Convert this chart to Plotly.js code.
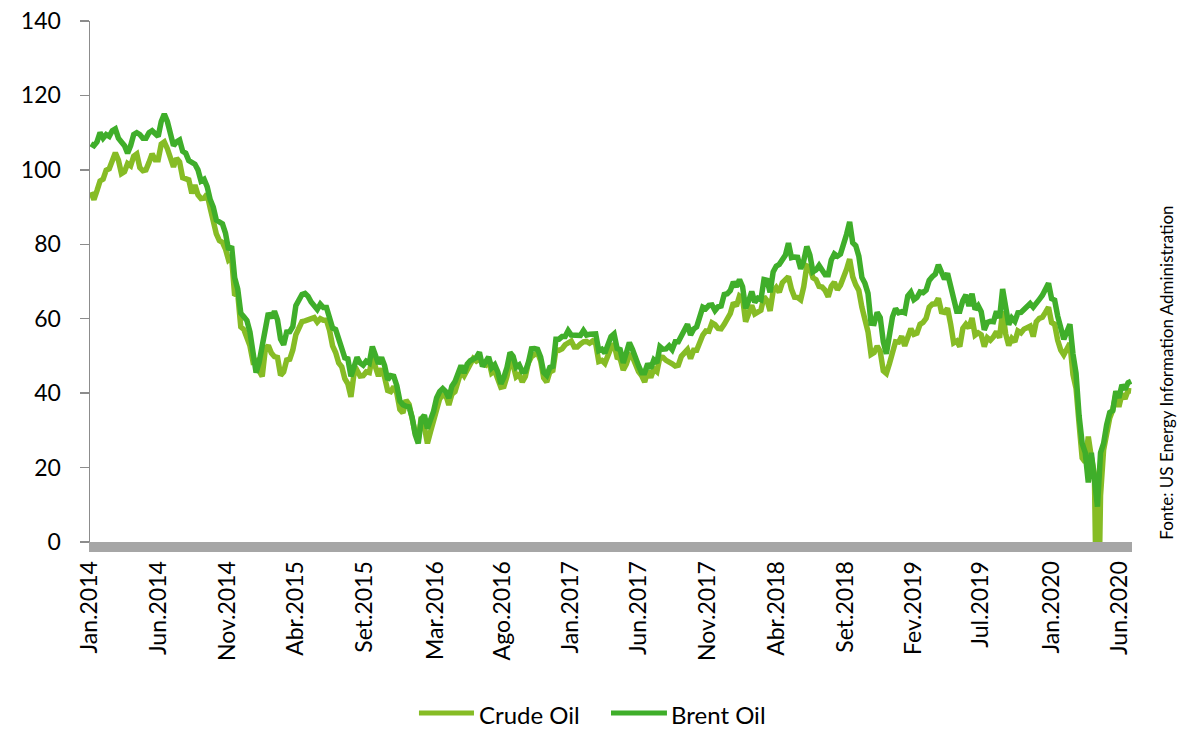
<!DOCTYPE html>
<html>
<head>
<meta charset="utf-8">
<script src="https://cdn.plot.ly/plotly-3.0.1.min.js"></script>
<style>
  html, body { margin: 0; padding: 0; background: #ffffff; }
  #chart { width: 1199px; height: 729px; }
</style>
</head>
<body>
<div id="chart"></div>
<script>
// Weekly values (Fridays), USD per barrel
const crude2014 = [94.0, 92.0, 94.4, 97.0, 97.5, 99.9, 100.3, 102.2, 104.6, 102.6, 99.0, 99.5, 101.7, 101.1, 103.7, 104.3, 100.6, 99.8, 100.0, 102.0, 104.3, 102.7, 102.7, 106.9, 107.5, 105.7, 103.5, 100.8, 103.1, 102.1, 97.9, 97.6, 97.3, 93.7, 95.9, 93.3, 92.3, 92.4, 93.5, 89.7, 85.8, 82.8, 81.0, 80.5, 78.7, 75.8, 76.5, 66.2, 66.8, 57.8, 57.1, 54.7];
const brent2014 = [107.0, 106.5, 107.5, 110.0, 108.5, 109.5, 109.0, 110.5, 111.0, 108.5, 107.5, 106.5, 104.5, 106.5, 109.5, 110.0, 109.5, 108.5, 108.5, 110.0, 110.5, 109.5, 109.0, 113.0, 115.0, 113.0, 110.0, 106.5, 107.5, 108.0, 105.0, 104.5, 102.5, 102.0, 101.5, 100.0, 97.0, 97.5, 95.5, 92.0, 90.0, 86.5, 86.0, 85.5, 83.0, 78.5, 79.5, 71.0, 68.0, 61.5, 60.5, 59.5];
const crude2015 = [52.7, 48.4, 48.7, 46.0, 44.5, 51.7, 52.8, 50.8, 49.8, 49.6, 44.8, 45.7, 48.9, 49.1, 51.6, 55.7, 57.2, 59.2, 59.4, 59.7, 59.7, 60.3, 59.1, 60.0, 59.6, 59.6, 56.9, 52.7, 50.9, 48.1, 47.1, 43.9, 42.5, 39.0, 45.2, 46.1, 44.6, 44.7, 45.7, 45.5, 49.6, 47.3, 44.6, 46.6, 44.3, 40.7, 40.4, 41.7, 40.0, 35.6, 34.7, 38.1];
const brent2015 = [56.4, 50.1, 45.5, 48.3, 53.0, 57.8, 61.5, 60.2, 62.0, 59.7, 54.5, 53.0, 56.4, 56.5, 57.9, 63.5, 65.0, 66.5, 66.8, 66.0, 64.5, 63.5, 62.5, 63.9, 63.0, 63.0, 60.3, 57.5, 57.1, 54.6, 52.2, 49.5, 49.2, 44.5, 47.0, 49.6, 48.1, 47.5, 48.6, 48.1, 52.5, 50.5, 47.9, 49.6, 47.4, 43.6, 44.7, 44.5, 42.0, 37.9, 36.9, 36.5];
const crude2016 = [37.0, 33.2, 29.4, 27.5, 33.6, 30.9, 26.5, 29.6, 32.8, 35.9, 38.5, 39.4, 39.5, 36.8, 39.7, 40.4, 43.7, 45.9, 44.7, 46.2, 47.8, 49.3, 48.6, 49.1, 48.0, 47.6, 49.0, 45.4, 46.0, 44.2, 41.6, 41.8, 44.5, 48.5, 47.6, 44.4, 45.0, 43.0, 44.5, 48.2, 49.8, 50.4, 50.9, 48.7, 44.1, 43.0, 45.7, 46.1, 51.7, 51.5, 51.9, 53.0, 53.7];
const brent2016 = [36.3, 33.5, 28.9, 26.5, 33.0, 34.1, 30.5, 32.8, 35.1, 38.7, 40.4, 41.2, 40.4, 38.7, 41.9, 43.1, 45.1, 47.4, 45.4, 47.8, 48.7, 49.3, 49.6, 51.0, 47.2, 48.4, 49.7, 46.8, 47.6, 45.7, 42.5, 44.3, 46.9, 50.9, 49.9, 47.0, 47.6, 45.8, 45.9, 48.2, 51.9, 52.0, 51.8, 49.7, 45.6, 44.8, 46.9, 47.2, 54.5, 54.5, 55.2, 55.2, 56.8];
const crude2017 = [54.0, 52.4, 52.4, 53.2, 53.8, 53.9, 53.4, 54.0, 53.3, 48.5, 48.8, 48.0, 50.6, 52.2, 53.2, 49.6, 49.3, 46.2, 47.8, 50.3, 49.8, 47.7, 45.8, 44.7, 43.0, 46.0, 44.2, 46.5, 45.8, 49.7, 49.6, 48.8, 48.5, 47.9, 47.3, 47.5, 49.9, 50.6, 51.7, 49.3, 51.5, 51.5, 53.9, 55.6, 56.7, 56.6, 58.9, 58.4, 57.4, 57.3, 58.5, 60.4];
const brent2017 = [55.6, 55.5, 55.5, 55.5, 56.8, 55.6, 55.8, 56.0, 55.9, 51.4, 51.8, 50.8, 52.8, 55.2, 55.9, 52.0, 51.7, 48.1, 50.8, 53.6, 51.8, 49.1, 47.4, 45.5, 45.5, 47.9, 46.7, 48.9, 48.1, 52.5, 51.8, 51.9, 52.7, 51.7, 53.8, 53.8, 55.6, 57.5, 58.5, 55.6, 57.2, 57.8, 60.4, 63.1, 62.7, 63.6, 63.7, 62.2, 63.2, 63.4, 66.5, 66.7];
const crude2018 = [61.4, 64.3, 63.4, 66.1, 65.5, 59.2, 61.7, 63.6, 61.3, 62.0, 62.3, 65.9, 64.9, 62.1, 67.4, 68.4, 67.1, 69.7, 70.7, 71.3, 67.9, 65.8, 65.7, 65.1, 68.6, 74.2, 73.8, 71.0, 70.5, 68.7, 68.5, 67.6, 65.9, 68.7, 69.8, 67.8, 69.0, 70.8, 73.3, 76.0, 71.3, 69.1, 67.6, 63.1, 60.2, 56.5, 50.4, 50.9, 52.6, 51.2, 46.0, 45.3];
const brent2018 = [67.6, 69.9, 68.6, 70.5, 68.6, 62.8, 64.8, 67.3, 64.4, 65.5, 65.1, 70.5, 70.3, 67.1, 72.6, 74.1, 74.6, 75.9, 77.1, 80.3, 76.4, 76.6, 76.5, 73.4, 75.6, 79.4, 77.1, 72.6, 73.1, 74.3, 72.8, 71.8, 71.8, 75.8, 77.4, 76.8, 77.4, 79.8, 82.7, 86.0, 80.4, 79.6, 76.8, 71.1, 69.5, 66.8, 58.8, 58.7, 61.7, 60.3, 53.8, 50.6];
const crude2019 = [47.9, 51.6, 53.8, 53.7, 55.3, 52.7, 55.6, 57.3, 55.8, 56.1, 58.5, 59.0, 60.1, 63.1, 63.9, 64.0, 65.5, 61.9, 61.7, 62.8, 58.6, 53.5, 54.0, 52.5, 57.4, 58.5, 57.5, 60.2, 55.6, 56.2, 55.7, 52.5, 54.9, 54.2, 55.1, 56.5, 54.9, 62.0, 55.9, 52.8, 54.7, 53.8, 56.7, 56.2, 57.2, 57.7, 58.0, 55.2, 59.2, 60.1, 60.4, 61.7];
const brent2019 = [56.3, 60.5, 62.7, 61.6, 61.9, 61.6, 66.1, 67.1, 65.1, 65.7, 67.2, 67.0, 67.7, 70.3, 71.3, 72.0, 74.5, 72.0, 70.6, 72.2, 68.7, 64.5, 62.0, 62.0, 64.9, 66.4, 63.4, 66.7, 62.5, 63.5, 61.9, 57.0, 59.0, 59.3, 59.2, 62.0, 60.2, 68.0, 62.5, 58.4, 60.2, 59.3, 61.6, 61.7, 62.5, 63.3, 64.1, 63.1, 64.4, 65.2, 66.3, 68.4];
const crude2020 = [63.1, 59.0, 58.5, 54.2, 51.6, 50.3, 52.1, 53.4, 45.0, 41.3, 31.7, 22.6, 21.5, 28.3, 22.8, 18.3, -37.6, 12.5, 24.7, 29.4, 33.3, 35.5, 39.6, 36.3, 39.8, 38.5, 40.7, 40.6];
const brent2020 = [69.5, 65.4, 65.0, 60.7, 57.8, 54.5, 56.5, 58.5, 50.5, 45.3, 33.9, 26.5, 24.0, 16.0, 24.0, 18.0, 9.5, 24.0, 26.5, 31.5, 34.8, 35.3, 40.5, 38.7, 42.2, 41.0, 42.8, 43.2];

const seriesNames = ['Crude Oil', 'Brent Oil'];
const firstWeek = '2014-01-03';

const tickDates = ['2014-01-01','2014-06-07','2014-11-11','2015-04-17','2015-09-21','2016-03-01','2016-08-01','2017-01-04','2017-06-10','2017-11-15','2018-04-21','2018-09-25','2019-02-28','2019-07-31','2020-01-09','2020-06-14'];
const tickLabels = ['Jan.2014','Jun.2014','Nov.2014','Abr.2015','Set.2015','Mar.2016','Ago.2016','Jan.2017','Jun.2017','Nov.2017','Abr.2018','Set.2018','Fev.2019','Jul.2019','Jan.2020','Jun.2020'];
const sourceText = 'Fonte: US Energy Information Administration';

const crude = [].concat(crude2014, crude2015, crude2016, crude2017, crude2018, crude2019, crude2020);
const brent = [].concat(brent2014, brent2015, brent2016, brent2017, brent2018, brent2019, brent2020);

const t0 = Date.parse(firstWeek + 'T00:00:00Z');
const dates = crude.map((_, i) => new Date(t0 + i * 7 * 86400000).toISOString().slice(0, 10));

const crudeColor = '#86bc25';
const brentColor = '#3fae2a';
const FONT = 'Lato, "Open Sans", sans-serif';

const traces = [
  { x: dates, y: crude, type: 'scatter', mode: 'lines', name: seriesNames[0],
    line: { color: crudeColor, width: 5.5 }, hoverinfo: 'skip' },
  { x: dates, y: brent, type: 'scatter', mode: 'lines', name: seriesNames[1],
    line: { color: brentColor, width: 5.5 }, hoverinfo: 'skip' }
];

// legend geometry in paper coordinates
const L = { y: -0.3283, textY: -0.3305, crudeX0: 0.3157, crudeX1: 0.3685, brentX0: 0.5, brentX1: 0.5537 };

const layout = {
  width: 1199, height: 729,
  margin: { l: 90, r: 67, t: 21, b: 187, pad: 0 },
  paper_bgcolor: '#ffffff', plot_bgcolor: '#ffffff',
  showlegend: false,
  font: { family: FONT, color: '#000000' },
  xaxis: {
    type: 'date',
    range: ['2014-01-01', '2020-07-12'],
    tickmode: 'array', tickvals: tickDates, ticktext: tickLabels,
    tickangle: -90,
    tickfont: { family: FONT, size: 23, color: '#000000' },
    ticks: '',
    showline: true, linecolor: '#a6a6a6', linewidth: 10,
    showgrid: false, zeroline: false, fixedrange: true
  },
  yaxis: {
    range: [0, 140], tick0: 0, dtick: 20,
    ticks: 'outside', ticklen: 9, tickwidth: 1.5, tickcolor: '#8c8c8c',
    showline: true, linecolor: '#8c8c8c', linewidth: 1.5,
    showgrid: false, zeroline: false, fixedrange: true,
    tickfont: { family: FONT, size: 23, color: '#000000' },
    ticklabelstandoff: 14
  },
  shapes: [
    { type: 'line', xref: 'paper', yref: 'paper', x0: L.crudeX0, x1: L.crudeX1, y0: L.y, y1: L.y,
      line: { color: crudeColor, width: 5 } },
    { type: 'line', xref: 'paper', yref: 'paper', x0: L.brentX0, x1: L.brentX1, y0: L.y, y1: L.y,
      line: { color: brentColor, width: 5 } }
  ],
  annotations: [
    { xref: 'paper', yref: 'paper', x: 0.3724, y: L.textY, xanchor: 'left', yanchor: 'middle',
      text: seriesNames[0], showarrow: false, borderpad: 0,
      font: { family: FONT, size: 24, color: '#000000' } },
    { xref: 'paper', yref: 'paper', x: 0.5566, y: L.textY, xanchor: 'left', yanchor: 'middle',
      text: seriesNames[1], showarrow: false, borderpad: 0,
      font: { family: FONT, size: 24, color: '#000000' } },
    { xref: 'paper', yref: 'paper', x: 1.0336, y: 0.325, xanchor: 'center', yanchor: 'middle',
      text: sourceText, textangle: -90, showarrow: false,
      font: { family: FONT, size: 17, color: '#000000' } }
  ]
};

Plotly.newPlot('chart', traces, layout, { displayModeBar: false, staticPlot: true });
</script>
</body>
</html>
